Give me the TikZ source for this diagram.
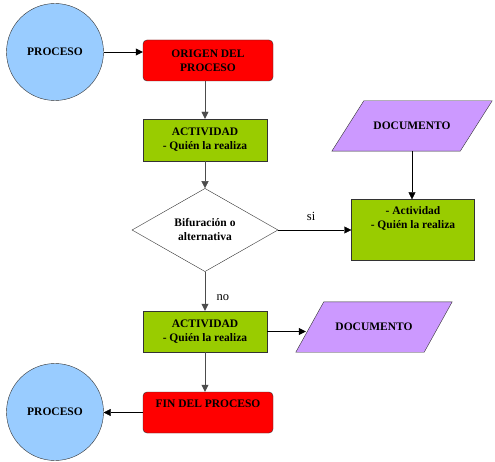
\documentclass[tikz,border=0pt]{standalone}
\usepackage{fontspec}
\setmainfont{Liberation Serif}
\usetikzlibrary{arrows.meta,shapes.geometric,backgrounds}
\definecolor{procol}{HTML}{99CCFF}
\definecolor{redcol}{HTML}{FF0000}
\definecolor{actcol}{HTML}{99CC00}
\definecolor{doccol}{HTML}{CC99FF}

\begin{document}
\begin{tikzpicture}[x=1pt, y=-1pt,
    txt/.style={font=\fontsize{11.5}{14}\selectfont\rmfamily\bfseries, align=center},
    proc/.style={circle, draw=black!80, fill=procol, minimum size=97pt, txt},
    redbox/.style={rectangle, rounded corners=4pt, draw=black!80, fill=redcol, minimum width=130pt, minimum height=41pt, txt},
    actbox/.style={rectangle, draw=black!80, fill=actcol, minimum width=124pt, minimum height=42pt, txt},
    docbox/.style={rectangle, minimum width=128pt, minimum height=50pt, txt},
    docfill/.style={draw=black!80, fill=doccol},
    flow/.style={-{Triangle[length=7pt,width=7pt]}, black},
    vflow/.style={flow, gray!60!black},
    answer/.style={font=\fontsize{12.5}{14}\selectfont\rmfamily, text=black}]
  \useasboundingbox (0,0) rectangle (495,462);

  % nodes
  \node[proc] (proc1) at (55,52) {PROCESO};
  \node[redbox] (origen) at (208,60.5) {ORIGEN DEL\\PROCESO};
  \node[actbox] (act1) at (205,140) {ACTIVIDAD\\- Quién la realiza};
  \node[diamond, draw=black!80, fill=white, minimum width=146pt, minimum height=80pt, inner sep=0pt, txt] (bif) at (205,230) {Bifuración o\\alternativa};
  \node[actbox, minimum width=123pt, minimum height=61pt,
    label={[anchor=north, yshift=-4pt, txt]north:- Actividad\\- Quién la realiza}] (act3) at (413,230) {};
  \node[docbox] (doc1) at (412,126) {DOCUMENTO};
  \node[actbox, minimum height=41pt] (act2) at (205,331.5) {ACTIVIDAD\\- Quién la realiza};
  \node[docbox] (doc2) at (374,327) {DOCUMENTO};
  \node[redbox, label={[anchor=north, yshift=-5pt, txt]north:FIN DEL PROCESO}] (fin) at (208,412.5) {};
  \node[proc] (proc2) at (55,412) {PROCESO};

  % document parallelograms (behind the text)
  \begin{scope}[on background layer]
    \draw[docfill] ([xshift=-16pt]doc1.south west) -- ([xshift=-16pt]doc1.south east)
      -- ([xshift=16pt]doc1.north east) -- ([xshift=16pt]doc1.north west) -- cycle;
    \draw[docfill] ([xshift=-14pt]doc2.south west) -- ([xshift=-14pt]doc2.south east)
      -- ([xshift=14pt]doc2.north east) -- ([xshift=14pt]doc2.north west) -- cycle;
  \end{scope}

  % connectors
  \draw[flow] (proc1.east) -- (proc1.east -| origen.west);
  \draw[vflow] (act1.north |- origen.south) -- (act1.north);
  \draw[vflow] (act1.south) -- (bif.north);
  \draw[flow] (bif.east) -- node[answer, above, pos=0.45, yshift=6pt] (si) {si} (bif.east -| act3.west);
  \draw[flow] (doc1.south) -- (doc1.south |- act3.north);
  \draw[vflow] (bif.south) -- node[answer, right, pos=0.65, xshift=8pt] (no) {no} (act2.north);
  \draw[flow] (act2.east) -- ([xshift=-4pt]act2.east -| doc2.west);
  \draw[vflow] (act2.south) -- (act2.south |- fin.north);
  \draw[flow] (fin.west) -- (fin.west -| proc2.east);
\end{tikzpicture}
\end{document}
